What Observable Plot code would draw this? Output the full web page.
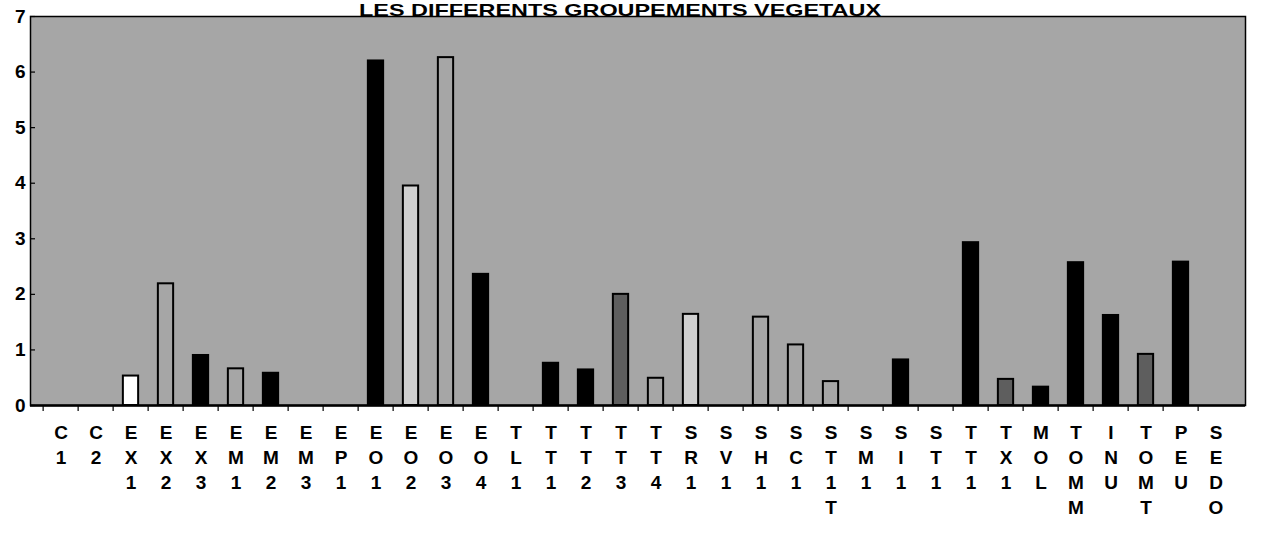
<!DOCTYPE html>
<html>
<head>
<meta charset="utf-8">
<script src="https://cdn.jsdelivr.net/npm/d3@7"></script>
<script src="https://cdn.jsdelivr.net/npm/@observablehq/plot@0.6"></script>
<style>
  html, body { margin: 0; padding: 0; background: #ffffff; }
  #chart svg { display: block; }
</style>
</head>
<body>
<div id="chart"></div>
<script>
// ---- data ----
const titleText = ["LES DIFFERENTS GROUPEMENTS VEGETAUX"];
const categories = ["C1","C2","EX1","EX2","EX3","EM1","EM2","EM3","EP1","EO1","EO2","EO3","EO4",
  "TL1","TT1","TT2","TT3","TT4","SR1","SV1","SH1","SC1","ST1T","SM1","SI1","ST1","TT1","TX1",
  "MOL","TOMM","INU","TOMT","PEU","SEDO"];
const values = [0, 0, 0.53, 2.19, 0.9, 0.66, 0.58, 0, 0, 6.2, 3.95, 6.26, 2.36,
  0, 0.76, 0.64, 2.0, 0.49, 1.64, 0, 1.59, 1.09, 0.43, 0, 0.82, 0, 2.93, 0.47,
  0.33, 2.57, 1.62, 0.92, 2.58, 0];
const motifs = ["vide","vide","blanc","contour","plein","contour","plein","vide","vide","plein","clair","contour","plein",
  "vide","plein","plein","fonce","contour","clair","vide","contour","contour","contour","vide","plein","vide","plein","fonce",
  "plein","plein","plein","fonce","plein","vide"];
const yTicks = [0, 1, 2, 3, 4, 5, 6, 7];

const rows = categories.map((c, i) => ({i, label: c, v: values[i], motif: motifs[i]}));
const idx = categories.map((c, i) => i);

const W = 1264, H = 534;
const mL = 30, mR = 19, mT = 16, mB = 129;
const step = (W - mL - mR) / categories.length;
const barW = 16;
const font = "'Liberation Sans', Arial, Helvetica, sans-serif";

const chart = Plot.plot({
  width: W,
  height: H,
  marginLeft: mL,
  marginRight: mR,
  marginTop: mT,
  marginBottom: mB,
  style: {fontFamily: font, fontSize: "19px", fontWeight: "bold", background: "#ffffff", color: "#000", overflow: "visible"},
  x: {type: "band", domain: idx, padding: 0, axis: null},
  y: {domain: [0, 7], axis: null},
  color: {
    domain: ["blanc", "contour", "clair", "fonce", "plein"],
    range: ["#ffffff", "#a6a6a6", "#d0d0d0", "#5e5e5e", "#000000"]
  },
  marks: [
    Plot.frame({fill: "#a6a6a6", stroke: null}),
    Plot.barY(rows.filter(d => d.v > 0), {
      x: "i", y: "v", fill: "motif", stroke: "#000", strokeWidth: 2,
      insetLeft: (step - barW) / 2, insetRight: (step - barW) / 2
    }),
    Plot.frame({stroke: "#000", strokeWidth: 1.5}),
    Plot.ruleY([0], {stroke: "#000", strokeWidth: 2.5}),
    // y axis labels
    Plot.axisY({ticks: yTicks, tickSize: 0, tickPadding: 5, tickFormat: d => String(d),
      fontSize: 19, fontWeight: "bold", label: null}),
    // small inward y ticks
    Plot.axisY({ticks: yTicks, tickSize: -5, tickFormat: () => "", label: null, strokeWidth: 1.2}),
    // x ticks at category boundaries
    Plot.axisX({ticks: idx, tickSize: 6, tickFormat: () => "", label: null, dx: -step / 2, strokeWidth: 1.2}),
    // stacked category labels
    Plot.axisX({ticks: idx, tickSize: 0, tickPadding: 16, lineHeight: 25 / 19,
      tickFormat: i => categories[i] === "ST1T" ? "S\nT\n1\nT" : categories[i].split("").join("\n"),
      fontSize: 19, fontWeight: "bold", label: null}),
    // title
    Plot.text(titleText, {frameAnchor: "top", dx: -18, dy: -13, lineAnchor: "top",
      fontSize: 17, fontWeight: "bold", text: d => d, className: "titre"})
  ]
});

// stretch the title horizontally like the original
d3.select(chart).selectAll("g.titre text")
  .attr("textLength", 522)
  .attr("lengthAdjust", "spacingAndGlyphs");

document.getElementById("chart").appendChild(chart);
</script>
</body>
</html>
